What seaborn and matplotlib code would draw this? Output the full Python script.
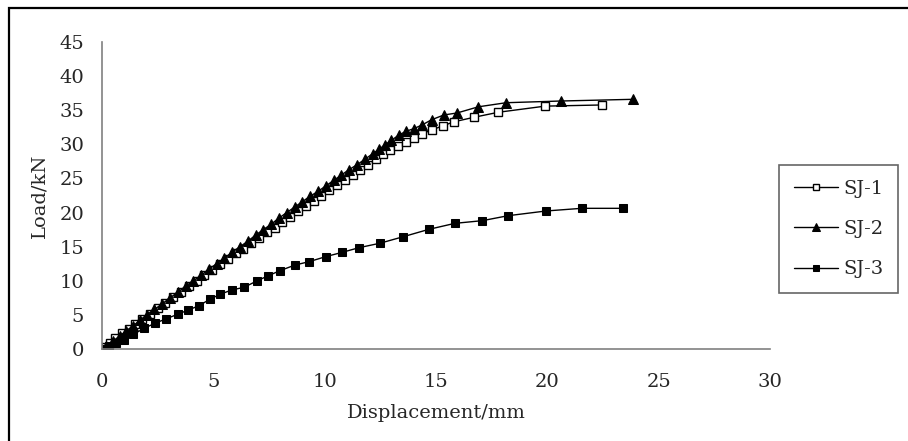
import matplotlib
matplotlib.use('Agg')
import matplotlib.pyplot as plt
import matplotlib.patches as mpatches
import numpy as np
import pandas as pd
import seaborn as sns

# data
sj1_x = [0.1, 0.35, 0.6, 0.9, 1.2, 1.5, 1.8, 2.15, 2.5, 2.85, 3.2, 3.55, 3.9, 4.25, 4.6,
         4.95, 5.3, 5.65, 6.0, 6.35, 6.7, 7.05, 7.4, 7.75, 8.1, 8.45, 8.8, 9.15, 9.5, 9.85,
         10.2, 10.55, 10.9, 11.25, 11.6, 11.95, 12.3, 12.6, 12.95, 13.3, 13.65, 14.0, 14.35,
         14.8, 15.3, 15.8, 16.7, 17.8, 19.9, 22.45]
sj1_y = [0.3, 0.9, 1.6, 2.3, 3.0, 3.7, 4.4, 5.2, 6.0, 6.8, 7.6, 8.4, 9.2, 10.0, 10.8,
         11.6, 12.4, 13.2, 14.0, 14.7, 15.5, 16.3, 17.1, 17.8, 18.6, 19.4, 20.2, 21.0, 21.7, 22.5,
         23.3, 24.0, 24.8, 25.5, 26.3, 27.0, 27.9, 28.6, 29.2, 29.7, 30.3, 31.0, 31.5,
         32.1, 32.7, 33.3, 33.96, 34.7, 35.6, 35.77]

sj2_x = [0.0, 0.2, 0.5, 0.8, 1.1, 1.4, 1.7, 2.0, 2.35, 2.7, 3.05, 3.4, 3.75, 4.1, 4.45,
         4.8, 5.15, 5.5, 5.85, 6.2, 6.55, 6.9, 7.25, 7.6, 7.95, 8.3, 8.65, 9.0, 9.35, 9.7,
         10.05, 10.4, 10.75, 11.1, 11.45, 11.8, 12.15, 12.45, 12.7, 13.0, 13.35, 13.65, 14.0,
         14.35, 14.8, 15.35, 15.95, 16.9, 18.15, 20.6, 23.85]
sj2_y = [0.0, 0.5, 1.2, 1.9, 2.7, 3.4, 4.2, 5.0, 5.8, 6.6, 7.5, 8.3, 9.2, 10.0, 10.8,
         11.7, 12.5, 13.3, 14.2, 15.0, 15.8, 16.7, 17.5, 18.3, 19.2, 20.0, 20.8, 21.6, 22.4, 23.1,
         23.9, 24.7, 25.5, 26.3, 27.0, 27.8, 28.6, 29.3, 29.9, 30.6, 31.4, 31.9, 32.3,
         32.8, 33.6, 34.3, 34.6, 35.5, 36.1, 36.35, 36.6]

sj3_x = [0.0, 0.3, 0.65, 1.0, 1.41, 1.89, 2.38, 2.86, 3.40, 3.88, 4.36, 4.84, 5.31, 5.82,
         6.38, 6.95, 7.44, 7.99, 8.67, 9.30, 10.04, 10.79, 11.54, 12.48, 13.53, 14.68,
         15.85, 17.08, 18.24, 19.94, 21.54, 23.41]
sj3_y = [0.0, 0.4, 0.85, 1.32, 2.15, 3.03, 3.77, 4.40, 5.09, 5.72, 6.35, 7.29, 8.02, 8.65,
         9.04, 9.97, 10.70, 11.48, 12.31, 12.80, 13.53, 14.17, 14.85, 15.50, 16.46, 17.54,
         18.42, 18.81, 19.54, 20.23, 20.62, 20.62]

x_ticks = [0, 5, 10, 15, 20, 25, 30]
y_ticks = [0, 5, 10, 15, 20, 25, 30, 35, 40, 45]

sns.set_style("white")
plt.rcParams['font.family'] = ['DejaVu Serif']
plt.rcParams['font.size'] = 14

fig = plt.figure(figsize=(9.08, 4.41), dpi=100)
ax = fig.add_axes([102/908, 1 - 349/441, (770-102)/908, (349-42)/441])

ms = 6
sns.lineplot(x=sj1_x, y=sj1_y, sort=False, ax=ax, color='black', lw=1.0, marker='s',
             markersize=ms, markerfacecolor='white', markeredgecolor='black',
             markeredgewidth=1.0, label='SJ-1')
sns.lineplot(x=sj2_x, y=sj2_y, sort=False, ax=ax, color='black', lw=1.0, marker='^',
             markersize=ms + 1.2, markerfacecolor='black', markeredgecolor='black',
             label='SJ-2')
sns.lineplot(x=sj3_x, y=sj3_y, sort=False, ax=ax, color='black', lw=1.0, marker='s',
             markersize=ms, markerfacecolor='black', markeredgecolor='black',
             label='SJ-3')

ax.set_xlim(0, 30)
ax.set_ylim(0, 45)
ax.set_xticks(x_ticks)
ax.set_yticks(y_ticks)
ax.set_xlabel('Displacement/mm', labelpad=10)
ax.set_ylabel('Load/kN', labelpad=8)

for s in ['top', 'right']:
    ax.spines[s].set_visible(False)
for s in ['left', 'bottom']:
    ax.spines[s].set_color('#808080')
    ax.spines[s].set_linewidth(1.2)
ax.tick_params(axis='both', direction='in', length=6, width=1.0, color='#808080')
ax.tick_params(axis='x', pad=17)
ax.tick_params(axis='y', pad=13)

handles, labels = ax.get_legend_handles_labels()
ax.legend_.remove()
leg = fig.legend(handles, labels, loc='center left',
                 bbox_to_anchor=(779/908, 1 - 229/441), borderaxespad=0,
                 frameon=True, fancybox=False, edgecolor='#404040',
                 handlelength=2.3, labelspacing=1.15, handletextpad=0.25,
                 borderpad=0.75, markerscale=0.8, fontsize=14)
leg.get_frame().set_linewidth(1.2)

# outer frame of the chart area
fig.add_artist(mpatches.Rectangle((9/908, -0.1), 1.2, 1.1 - 8/441, transform=fig.transFigure,
                                  fill=False, edgecolor='black', lw=1.6, clip_on=False))

fig.savefig('out.png', dpi=100)
